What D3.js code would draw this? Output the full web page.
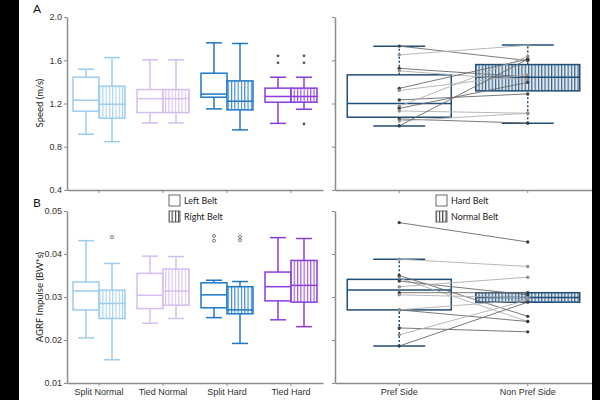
<!DOCTYPE html>
<html>
<head>
<meta charset="utf-8">
<script src="https://cdn.jsdelivr.net/npm/d3@7"></script>
<style>
  body { margin: 0; background: #fff; }
  svg { display: block; font-family: Lato, "Open Sans", sans-serif; }
</style>
</head>
<body>
<svg width="600" height="400"></svg>
<script>
// categorias y colores
const categories = ["Split Normal", "Tied Normal", "Split Hard", "Tied Hard"];
const sides = ["Pref Side", "Non Pref Side"];
const groupColors = ["#9ccdf2", "#d6bdf2", "#1f78c4", "#8a3ce0"];
const sideColor = "#1f4e79";

// cajas: [bigote inferior, q1, mediana, q3, bigote superior]
const speedLeft = [[0.916, 1.129, 1.23, 1.443, 1.517], [1.02, 1.116, 1.245, 1.329, 1.604], [1.15, 1.258, 1.287, 1.48, 1.761], [1.016, 1.212, 1.265, 1.342, 1.443]];
const speedRight = [[0.847, 1.064, 1.193, 1.36, 1.625], [1.02, 1.116, 1.245, 1.329, 1.604], [0.956, 1.141, 1.221, 1.409, 1.755], [1.147, 1.212, 1.265, 1.342, 1.443]];
const speedOutLeft = [[], [], [], [1.641, 1.576]];
const speedOutRight = [[], [], [], [1.641, 1.576, 1.011]];

const impulseLeft = [[0.0205, 0.0270, 0.0314, 0.0335, 0.0431], [0.0239, 0.0273, 0.0304, 0.0355, 0.0395], [0.0252, 0.0275, 0.0305, 0.0333, 0.0339], [0.0247, 0.0291, 0.0324, 0.0358, 0.0438]];
const impulseRight = [[0.0154, 0.0250, 0.0285, 0.0316, 0.0378], [0.0250, 0.0281, 0.0314, 0.0365, 0.0394], [0.0192, 0.0261, 0.0270, 0.0324, 0.0336], [0.0231, 0.0288, 0.0327, 0.0385, 0.0436]];
const impulseOutLeft = [[], [], [0.0442, 0.0431], []];
const impulseOutRight = [[0.0439], [], [0.0440, 0.0432], []];

// lado preferido / no preferido
const speedSideBox = [[0.993, 1.073, 1.199, 1.465, 1.73], [1.018, 1.317, 1.443, 1.56, 1.74]];
const impulseSideBox = [[0.0186, 0.0270, 0.0316, 0.0341, 0.0388], [0.0288, 0.0288, 0.0299, 0.0310, 0.0310]];

// sujetos (pares)
const speedPref    = [1.731, 1.65, 1.525, 1.502, 1.34, 1.321, 1.233, 1.175, 1.155, 1.131, 1.057, 1.039, 0.993];
const speedNonPref = [1.597, 1.738, 1.446, 1.414, 1.61, 1.465, 1.289, 1.636, 1.395, 1.11, 1.018, 1.11, 1.61];
const impulsePref    = [0.0473, 0.0388, 0.0350, 0.0344, 0.0337, 0.0324, 0.0310, 0.0305, 0.0270, 0.0270, 0.0228, 0.0212, 0.0186];
const impulseNonPref = [0.0428, 0.0371, 0.0255, 0.0243, 0.0305, 0.0346, 0.0310, 0.0298, 0.0243, 0.0293, 0.0219, 0.0293, 0.0288];

const speedTicks = [0.4, 0.8, 1.2, 1.6, 2.0];
const impulseTicks = [0.01, 0.02, 0.03, 0.04, 0.05];

const svg = d3.select("svg");
const axisColor = "#8c8c8c";

// patrones rayados
const defs = svg.append("defs");
function hatch(id, color, bg) {
  const p = defs.append("pattern").attr("id", id)
    .attr("patternUnits", "userSpaceOnUse").attr("width", 3.3).attr("height", 10);
  p.append("rect").attr("width", 3.3).attr("height", 10).attr("fill", bg);
  p.append("line").attr("x1", 0.6).attr("x2", 0.6).attr("y1", 0).attr("y2", 10)
    .attr("stroke", color).attr("stroke-width", 1);
}
groupColors.forEach((c, i) => hatch("h" + i, c, "#ffffff"));
hatch("hside", sideColor, "#dfe7ef");
hatch("hleg", "#222", "#ffffff");

// escalas
const xCat = d3.scaleBand().domain(categories).range([67, 323]);
const xSide = d3.scaleBand().domain(sides).range([335, 592]);
const ySpeed = d3.scaleLinear().domain([0.4, 2.0]).range([190, 17]);
const yImp = d3.scaleLinear().domain([0.01, 0.05]).range([383, 211]);

function styleAxis(g) {
  g.select(".domain").attr("stroke", axisColor).attr("stroke-width", 1.5);
  g.selectAll(".tick line").attr("stroke", axisColor);
  g.selectAll(".tick text").attr("fill", "#333").style("font-size", "9px");
}

// ejes
svg.append("g").attr("transform", "translate(67,0)")
  .call(d3.axisLeft(ySpeed).tickValues(speedTicks).tickFormat(d3.format(".1f")).tickSize(3).tickPadding(2).tickSizeOuter(0)).call(styleAxis);
svg.append("g").attr("transform", "translate(67,0)")
  .call(d3.axisLeft(yImp).tickValues(impulseTicks).tickFormat(d3.format(".2f")).tickSize(3).tickPadding(2).tickSizeOuter(0)).call(styleAxis);
svg.append("g").attr("transform", "translate(335,0)")
  .call(d3.axisLeft(ySpeed).tickValues(speedTicks).tickFormat("").tickSize(3).tickSizeOuter(0)).call(styleAxis);
svg.append("g").attr("transform", "translate(335,0)")
  .call(d3.axisLeft(yImp).tickValues(impulseTicks).tickFormat("").tickSize(3).tickSizeOuter(0)).call(styleAxis);

svg.append("g").attr("transform", "translate(0,190)")
  .call(d3.axisBottom(xCat).tickFormat("").tickSize(3).tickSizeOuter(0)).call(styleAxis);
svg.append("g").attr("transform", "translate(0,383)")
  .call(d3.axisBottom(xCat).tickSize(3).tickSizeOuter(0)).call(styleAxis);
svg.append("g").attr("transform", "translate(0,190)")
  .call(d3.axisBottom(xSide).tickFormat("").tickSize(3).tickSizeOuter(0)).call(styleAxis);
svg.append("g").attr("transform", "translate(0,383)")
  .call(d3.axisBottom(xSide).tickSize(3).tickSizeOuter(0)).call(styleAxis);

// titulos de ejes
svg.append("text").attr("transform", "translate(43,103) rotate(-90)")
  .attr("text-anchor", "middle").attr("fill", "#222").style("font-size", "9.5px").text("Speed (m/s)");
svg.append("text").attr("transform", "translate(43,297) rotate(-90)")
  .attr("text-anchor", "middle").attr("fill", "#222").style("font-size", "9.5px").text("AGRF Impulse (BW*s)");
svg.append("text").attr("x", 33).attr("y", 13).attr("fill", "#111").style("font-size", "12px").text("A");
svg.append("text").attr("x", 33).attr("y", 207).attr("fill", "#111").style("font-size", "12px").text("B");

// caja generica
function drawBox(g, xc, w, capW, v, y, color, fill, dashed) {
  g.append("line").attr("x1", xc).attr("x2", xc).attr("y1", y(v[0])).attr("y2", y(v[1]))
    .attr("stroke", color).attr("stroke-width", 1.5).attr("stroke-dasharray", dashed ? "2,2" : null);
  g.append("line").attr("x1", xc).attr("x2", xc).attr("y1", y(v[3])).attr("y2", y(v[4]))
    .attr("stroke", color).attr("stroke-width", 1.5).attr("stroke-dasharray", dashed ? "2,2" : null);
  [v[0], v[4]].forEach(d => {
    g.append("line").attr("x1", xc - capW / 2).attr("x2", xc + capW / 2).attr("y1", y(d)).attr("y2", y(d))
      .attr("stroke", color).attr("stroke-width", 1.5);
  });
  g.append("rect").attr("x", xc - w / 2).attr("width", w)
    .attr("y", y(v[3])).attr("height", Math.max(0, y(v[1]) - y(v[3])))
    .attr("fill", fill).attr("stroke", color).attr("stroke-width", 1.5);
  g.append("line").attr("x1", xc - w / 2).attr("x2", xc + w / 2).attr("y1", y(v[2])).attr("y2", y(v[2]))
    .attr("stroke", color).attr("stroke-width", 1.5);
}

const boxW = 26;
function drawGroups(left, right, outL, outR, y, filled) {
  const g = svg.append("g");
  categories.forEach((c, i) => {
    const xc = xCat(c) + xCat.bandwidth() / 2;
    drawBox(g, xc - boxW / 2, boxW, 16, left[i], y, groupColors[i], "#fff", false);
    drawBox(g, xc + boxW / 2, boxW, 16, right[i], y, groupColors[i], "url(#h" + i + ")", false);
    [[outL[i], xc - boxW / 2], [outR[i], xc + boxW / 2]].forEach(([arr, x]) => {
      g.selectAll(null).data(arr).enter().append("circle")
        .attr("cx", x).attr("cy", d => y(d)).attr("r", filled ? 1.4 : 1.5)
        .attr("fill", filled ? "#555" : "#fff").attr("stroke", "#555").attr("stroke-width", filled ? 0 : 0.8);
    });
  });
}
drawGroups(speedLeft, speedRight, speedOutLeft, speedOutRight, ySpeed, true);
drawGroups(impulseLeft, impulseRight, impulseOutLeft, impulseOutRight, yImp, false);

// panel derecho
function drawSides(boxes, pref, nonPref, y) {
  const g = svg.append("g");
  const x0 = xSide(sides[0]) + xSide.bandwidth() / 2;
  const x1 = xSide(sides[1]) + xSide.bandwidth() / 2;
  drawBox(g, x0, 104, 52, boxes[0], y, sideColor, "#fff", true);
  drawBox(g, x1, 104, 52, boxes[1], y, sideColor, "url(#hside)", true);
  const shades = ["#3c3c3c", "#8f8f8f"];
  const lineShades = ["#6a6a6a", "#b0b0b0"];
  pref.forEach((p, i) => {
    g.append("line").attr("x1", x0).attr("x2", x1).attr("y1", y(p)).attr("y2", y(nonPref[i]))
      .attr("stroke", lineShades[i % 2]).attr("stroke-width", 0.9);
  });
  pref.forEach((p, i) => {
    g.append("circle").attr("cx", x0).attr("cy", y(p)).attr("r", 1.7).attr("fill", shades[i % 2]);
    g.append("circle").attr("cx", x1).attr("cy", y(nonPref[i])).attr("r", 1.7).attr("fill", shades[i % 2]);
  });
}
drawSides(speedSideBox, speedPref, speedNonPref, ySpeed);
drawSides(impulseSideBox, impulsePref, impulseNonPref, yImp);

// leyendas
function legend(x, labels) {
  const g = svg.append("g");
  labels.forEach((l, i) => {
    const y = 195 + i * 16;
    g.append("rect").attr("x", x).attr("y", y).attr("width", 11).attr("height", 11)
      .attr("fill", i ? "url(#hleg)" : "#fff").attr("stroke", "#444").attr("stroke-width", 0.8);
    g.append("text").attr("x", x + 15).attr("y", y + 8.5).attr("fill", "#222")
      .style("font-size", "9px").text(l);
  });
}
legend(169, ["Left Belt", "Right Belt"]);
legend(436, ["Hard Belt", "Normal Belt"]);

// bordes negros de la captura
svg.append("rect").attr("x", 0).attr("y", 0).attr("width", 19).attr("height", 400).attr("fill", "#000");
svg.append("rect").attr("x", 592).attr("y", 0).attr("width", 8).attr("height", 400).attr("fill", "#000");
</script>
</body>
</html>
